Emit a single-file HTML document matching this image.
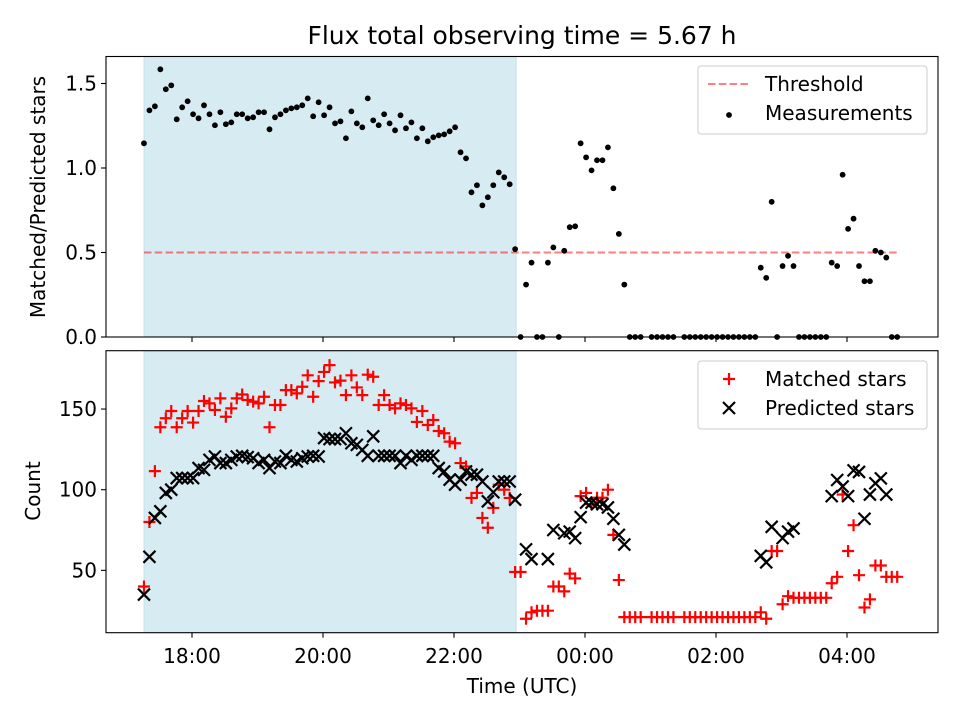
<!DOCTYPE html>
<html><head><meta charset="utf-8"><style>
html,body{margin:0;padding:0;background:#fff}
svg text{font-family:"DejaVu Sans","Liberation Sans",sans-serif;fill:#000}
</style></head><body>
<svg id="fig" width="960" height="720" viewBox="0 0 960 720" xmlns="http://www.w3.org/2000/svg">
<rect width="960" height="720" fill="#fff"/>
<text x="522" y="44" font-size="25" text-anchor="middle">Flux total observing time = 5.67 h</text>
<g id="topPanel"></g>
<g id="botPanel"></g>
<text transform="translate(45,197) rotate(-90)" font-size="20" text-anchor="middle">Matched/Predicted stars</text>
<text transform="translate(40,491) rotate(-90)" font-size="20" text-anchor="middle">Count</text>
<text x="522" y="693" font-size="20" text-anchor="middle">Time (UTC)</text>
</svg>
<script>
const times = ["17:16","17:21","17:26","17:31","17:36","17:41","17:46","17:51","17:56",
"18:01","18:06","18:11","18:16","18:21","18:26","18:31","18:36","18:41","18:46","18:51","18:56",
"19:01","19:06","19:11","19:16","19:21","19:26","19:31","19:36","19:41","19:46","19:51","19:56",
"20:01","20:06","20:11","20:16","20:21","20:26","20:31","20:36","20:41","20:46","20:51","20:56",
"21:01","21:06","21:11","21:16","21:21","21:26","21:31","21:36","21:41","21:46","21:51","21:56",
"22:01","22:06","22:11","22:16","22:21","22:26","22:31","22:36","22:41","22:46","22:51","22:56",
"23:01","23:06","23:11","23:16","23:21","23:26","23:31","23:36","23:41","23:46","23:51","23:56",
"00:01","00:06","00:11","00:16","00:21","00:26","00:31","00:36","00:41","00:46","00:51","00:56",
"01:01","01:06","01:11","01:16","01:21","01:26","01:31","01:36","01:41","01:46","01:51","01:56",
"02:01","02:06","02:11","02:16","02:21","02:26","02:31","02:36","02:41","02:46","02:51","02:56",
"03:01","03:06","03:11","03:16","03:21","03:26","03:31","03:36","03:41","03:46","03:51","03:56",
"04:01","04:06","04:11","04:16","04:21","04:26","04:31","04:36","04:41","04:46"];
const ratio = [1.146,1.341,1.365,1.584,1.466,1.489,1.288,1.359,1.395,1.318,1.294,1.371,1.318,1.253,1.330,1.259,1.270,1.318,1.318,1.294,
1.300,1.330,1.330,1.229,1.300,1.318,1.341,1.353,1.359,1.371,1.412,1.306,1.389,1.312,1.359,1.264,1.276,1.176,1.335,1.264,
1.241,1.412,1.282,1.253,1.318,1.264,1.223,1.312,1.235,1.270,1.176,1.235,1.158,1.182,1.193,1.199,1.217,1.241,1.093,1.057,
0.856,0.898,0.779,0.827,0.898,0.974,0.945,0.904,0.52,0,0.31,0.44,0,0,0.44,0.53,0,0.51,0.65,0.655,
1.146,1.063,0.986,1.046,1.046,1.122,0.88,0.61,0.31,0,0,0,null,0,0,0,0,0,null,0,
0,0,0,0,0,0,0,0,0,0,0,0,0,0.41,0.35,0.80,0,0.42,0.48,0.42,
0,0,0,0,0,0,0.44,0.42,0.96,0.64,0.70,0.42,0.33,0.33,0.51,0.50,0.47,0,0];
const matched = [40,80,111.5,138.7,144.3,148.8,138.7,144.3,148.8,141.6,148.8,155,153.5,149.4,156.6,145.2,150.4,156.6,159,155.6,
154.6,153.5,157.6,138.7,152.5,152.5,161.7,161.7,159.7,163.8,170.9,157.6,167.3,173,177.2,166.5,167.6,158.6,170.9,163.4,
158.6,171.3,170,152.5,158.6,152.5,150.4,153.5,152.5,150.4,142,148.8,140.1,143.2,136.4,135,129.8,128.8,116.5,114.4,
94.9,98,82.5,76.4,88.7,103.1,100,94.9,49,49,20,24,25,25,25,40,40,37,48,45,
96,98,91,95,95,100,72,44,21,21,21,21,null,21,21,21,21,21,null,21,
21,21,21,21,21,21,21,21,21,21,21,21,21,24,20,62,62,29,34,33,
33,33,33,33,33,33,42,46,97,62,78,47,27,32,53,53,46,46,46];
const predicted = [35,58.4,82.5,86.6,98,100,107.2,107.2,107.2,107.2,113.4,112.3,118.5,120.6,116.5,116.5,118.5,120.6,121,120.2,
119.5,116.5,118.5,113.4,117.5,116.5,121,118.5,117.5,119.5,120.6,121,120.6,132,131.4,131.4,131.4,135,128.8,127.8,
124.7,121,133.1,121,121,121,121,116.5,121,118.5,121,121,121,121,113.4,111.3,106.2,103.1,106.2,111.3,
109.3,109.3,105.1,92.8,98.4,105.1,105.1,105.1,93.8,null,63,57,null,null,57,75,null,73,74,70,
83,92,92,91,91,89,82,72,66,null,null,null,null,null,null,null,null,null,null,null,
null,null,null,null,null,null,null,null,null,null,null,null,null,59,55,77,null,70,74,76,
null,null,null,null,null,null,96,106,102,96,112,111,82,97,104,107,97,null,null];
const threshold = 0.5;
const shadeStart = "17:16", shadeEnd = "22:57";
const xTickLabels = ["18:00","20:00","22:00","00:00","02:00","04:00"];
const topYTicks = [0.0,0.5,1.0,1.5];
const botYTicks = [50,100,150];

const NS="http://www.w3.org/2000/svg";
const L=106,R=938;
function toH(s){let [h,m]=s.split(":").map(Number);if(h<12)h+=24;return h+m/60;}
function xs(s){return 192+(toH(s)-18)*65.5;}
const topY0=337,topY1=56.5;
function yT(v){return 337-v*169;}
function yB(v){return 489.7-(v-100)*1.6133;}
function mk(tag,attrs,parent){const e=document.createElementNS(NS,tag);for(const k in attrs)e.setAttribute(k,attrs[k]);parent.appendChild(e);return e;}
function fmtT(v){return v.toFixed(1);}

function panel(g,y0,y1,yfn,yticks,fmt,name){
  const s=mk('rect',{x:xs(shadeStart),y:y1,width:xs(shadeEnd)-xs(shadeStart),height:y0-y1,fill:'#add8e6','fill-opacity':0.5,stroke:'#add8e6','stroke-opacity':0.6},g);
  
  
  xTickLabels.forEach(t=>{
    const x=xs(t);
    const tk=mk('line',{x1:x,x2:x,y1:y0,y2:y0+5,stroke:'#000','stroke-width':1.1},g);
    
    
  });
  yticks.forEach(v=>{
    const y=yfn(v);
    const tk=mk('line',{x1:L-5,x2:L,y1:y,y2:y,stroke:'#000','stroke-width':1.1},g);
    
    
    const t=mk('text',{x:L-9,y:y+7,'font-size':20,'text-anchor':'end'},g);
    t.textContent=fmt(v);
    
    
  });
}
const topG=document.getElementById('topPanel'),botG=document.getElementById('botPanel');
panel(topG,topY0,topY1,yT,topYTicks,fmtT,'top');
panel(botG,632.7,350.7,yB,botYTicks,v=>String(v),'bottom');

const th=mk('line',{x1:xs(times[0]),x2:xs(times[times.length-1]),y1:yT(threshold),y2:yT(threshold),stroke:'#ff0000','stroke-opacity':0.5,'stroke-width':2,'stroke-dasharray':'7.5,3.3'},topG);


ratio.forEach((v,i)=>{
  if(v===null)return;
  const c=mk('circle',{cx:xs(times[i]),cy:yT(v),r:2.9,fill:'#000'},topG);
  
  
});
matched.forEach((v,i)=>{
  if(v===null)return;
  const x=xs(times[i]),y=yB(v);
  const p=mk('path',{d:`M${x-6} ${y}H${x+6}M${x} ${y-6}V${y+6}`,stroke:'#ff0000','stroke-width':2.2},botG);
  
  
});
predicted.forEach((v,i)=>{
  if(v===null)return;
  const x=xs(times[i]),y=yB(v);
  const p=mk('path',{d:`M${x-6} ${y-6}L${x+6} ${y+6}M${x-6} ${y+6}L${x+6} ${y-6}`,stroke:'#000','stroke-width':2.2},botG);
  
  
});
[[topG,topY1,topY0],[botG,350.7,632.7]].forEach(([g,a,b])=>{
  const f=mk('rect',{x:L,y:a,width:R-L,height:b-a,fill:'none',stroke:'#000','stroke-width':1.1},g);
  
  
});
xTickLabels.forEach(t=>{
  const e=mk('text',{x:xs(t),y:663,'font-size':20,'text-anchor':'middle'},botG);
  e.textContent=t;
  
  
});
function legend(g,y,entries,name){
  const box=mk('rect',{x:698,y:y,width:229,height:68,rx:3,fill:'#fff','fill-opacity':0.8,stroke:'#ccc','stroke-width':1},g);
  
  
  entries.forEach((e,k)=>{
    const cy=y+18+k*29;
    if(e.type==='line'){const l=mk('line',{x1:708,x2:748,y1:cy,y2:cy,stroke:'#ff0000','stroke-opacity':0.5,'stroke-width':2,'stroke-dasharray':'7.5,3.3'},g);}
    if(e.type==='dot'){const c=mk('circle',{cx:729,cy:cy+2,r:2.9,fill:'#000'},g);}
    if(e.type==='plus'){const p=mk('path',{d:`M723 ${cy}H735M729 ${cy-6}V${cy+6}`,stroke:'#ff0000','stroke-width':2.2},g);}
    if(e.type==='x'){const p=mk('path',{d:`M723 ${cy-6}L735 ${cy+6}M723 ${cy+6}L735 ${cy-6}`,stroke:'#000','stroke-width':2.2},g);}
    const t=mk('text',{x:765,y:cy+7,'font-size':20},g);
    t.textContent=e.label;
    
    
  });
}
legend(topG,66,[{type:'line',label:'Threshold'},{type:'dot',label:'Measurements'}],'top-legend');
legend(botG,361,[{type:'plus',label:'Matched stars'},{type:'x',label:'Predicted stars'}],'bottom-legend');
</script>
</body></html>
